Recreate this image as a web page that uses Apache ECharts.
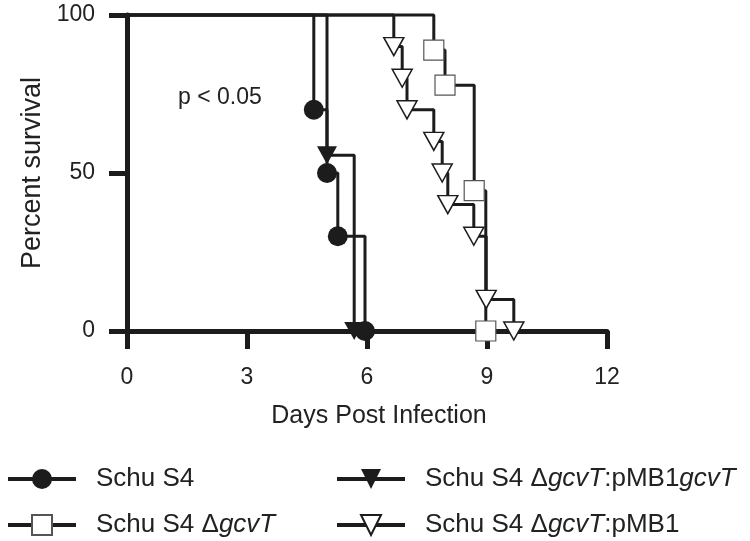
<!DOCTYPE html>
<html>
<head>
<meta charset="utf-8">
<script src="https://cdn.jsdelivr.net/npm/echarts@6/dist/echarts.min.js"></script>
<style>html,body{margin:0;padding:0;background:#fff}#c{width:750px;height:541px}</style>
</head>
<body>
<div id="c"></div>
<script>
// ---- data ----
const xTicks = [0, 3, 6, 9, 12];
const yTicks = [0, 50, 100];
const seriesNames = ['Schu S4', 'Schu S4 \u0394gcvT:pMB1gcvT', 'Schu S4 \u0394gcvT:pMB1', 'Schu S4 \u0394gcvT'];
const wtDays = [0, 4.67, 5.0, 5.27, 5.95];
const wtSurv = [100, 70, 50, 30, 0];
const compDays = [0, 5.0, 5.68];
const compSurv = [100, 55.6, 0];
const vecDays = [0, 6.67, 6.88, 7.0, 7.67, 7.88, 8.02, 8.67, 8.98, 9.67];
const vecSurv = [100, 90, 80, 70, 60, 50, 40, 30, 10, 0];
const mutDays = [0, 7.67, 7.95, 8.68, 8.97];
const mutSurv = [100, 88.9, 77.8, 44.4, 0];
const annotation = 'p < 0.05';
const xTitle = 'Days Post Infection';
const yTitle = 'Percent survival';

const FONT = "'Liberation Sans', Arial, sans-serif";
const INK = '#1c1c1c';
const triDown = 'path://M0,0 L20,0 L10,18 Z';

function pts(days, surv) {
  return days.map((d, i) => i === 0 ? { value: [d, surv[i]], symbol: 'none' } : { value: [d, surv[i]] });
}
function mk(name, days, surv, symbol, size, itemStyle) {
  return {
    name, type: 'line', step: 'end', data: pts(days, surv),
    symbol, symbolSize: size, showSymbol: true, clip: false,
    lineStyle: { color: INK, width: 3 },
    itemStyle, emphasis: { disabled: true }
  };
}
const rich = {
  g: { width: 15, fontSize: 26, lineHeight: 25, fontFamily: FONT },
  n: { fontSize: 26, lineHeight: 25, fontFamily: FONT, color: '#222' },
  i: { fontSize: 26, lineHeight: 25, fontFamily: FONT, color: '#222', fontStyle: 'italic' }
};
const fmt = name => '{g|}{n|' + name.replace(/gcvT/g, '}{i|gcvT}{n|') + '}';
const legendBase = {
  orient: 'vertical', itemWidth: 68, itemHeight: 25, itemGap: 20, padding: 0,
  lineStyle: { width: 4 }, formatter: fmt, selectedMode: false,
  textStyle: { fontSize: 26, lineHeight: 25, fontFamily: FONT, color: '#222', rich }
};

const chart = echarts.init(document.getElementById('c'));
chart.setOption({
  animation: false,
  backgroundColor: '#fff',
  grid: { left: 127, right: 143, top: 15, bottom: 210 },
  xAxis: {
    type: 'value', min: xTicks[0], max: xTicks[xTicks.length - 1], interval: 3,
    name: xTitle, nameLocation: 'middle', nameGap: 73,
    nameTextStyle: { fontSize: 25, fontFamily: FONT, color: '#222', padding: [0, 0, 0, 24] },
    axisLine: { lineStyle: { color: INK, width: 5 } },
    axisTick: { length: 18, lineStyle: { color: INK, width: 5 } },
    axisLabel: { margin: 35, fontSize: 23, fontFamily: FONT, color: '#222' },
    splitLine: { show: false }
  },
  yAxis: {
    type: 'value', min: yTicks[0], max: yTicks[yTicks.length - 1], interval: 50,
    name: yTitle, nameLocation: 'middle', nameGap: 80, nameRotate: 90,
    nameTextStyle: { fontSize: 27, fontFamily: FONT, color: '#222' },
    axisLine: { lineStyle: { color: INK, width: 5 } },
    axisTick: { length: 18, lineStyle: { color: INK, width: 5 } },
    axisLabel: { margin: 32, fontSize: 23, fontFamily: FONT, color: '#222' },
    splitLine: { show: false }
  },
  legend: [
    Object.assign({}, legendBase, { left: 6, top: 466, height: 75, data: [seriesNames[0], seriesNames[3]] }),
    Object.assign({}, legendBase, { left: 335, top: 466, height: 75, data: [seriesNames[1], seriesNames[2]] })
  ],
  graphic: [{
    type: 'text', left: 178, top: 86,
    style: { text: annotation, fontSize: 23, fontFamily: FONT, fill: '#222' }
  }],
  series: [
    mk(seriesNames[0], wtDays, wtSurv, 'circle', 20, { color: INK }),
    mk(seriesNames[1], compDays, compSurv, triDown, [20, 18], { color: INK }),
    mk(seriesNames[2], vecDays, vecSurv, triDown, [20, 18], { color: '#fff', borderColor: INK, borderWidth: 1.5 }),
    mk(seriesNames[3], mutDays, mutSurv, 'rect', 20, { color: '#fff', borderColor: '#555', borderWidth: 1.2 })
  ]
});
</script>
</body>
</html>
